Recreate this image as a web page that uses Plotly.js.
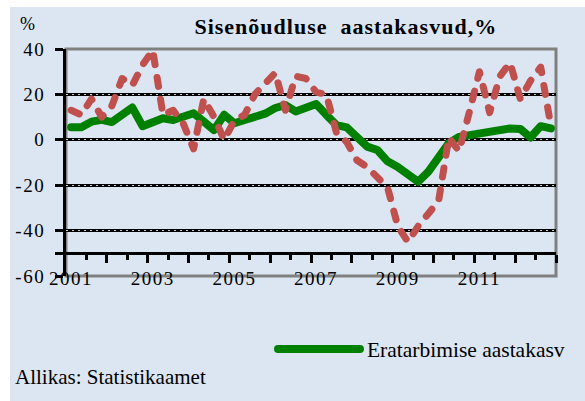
<!DOCTYPE html>
<html><head><meta charset="utf-8">
<script src="https://cdn.plot.ly/plotly-3.0.1.min.js"></script>
<style>
html,body{margin:0;padding:0;background:#ffffff;}
#chart{position:absolute;left:10px;top:7px;width:575px;height:394px;}
.js-line{stroke-linecap:round;stroke-linejoin:round;}
.xtick text,.ytick text{letter-spacing:1.5px;}
.gtitle{letter-spacing:1px;}
</style></head>
<body><div id="chart"></div>
<script>
const categories = [
 '2001 Q1','2001 Q2','2001 Q3','2001 Q4','2002 Q1','2002 Q2','2002 Q3','2002 Q4',
 '2003 Q1','2003 Q2','2003 Q3','2003 Q4','2004 Q1','2004 Q2','2004 Q3','2004 Q4',
 '2005 Q1','2005 Q2','2005 Q3','2005 Q4','2006 Q1','2006 Q2','2006 Q3','2006 Q4',
 '2007 Q1','2007 Q2','2007 Q3','2007 Q4','2008 Q1','2008 Q2','2008 Q3','2008 Q4',
 '2009 Q1','2009 Q2','2009 Q3','2009 Q4','2010 Q1','2010 Q2','2010 Q3','2010 Q4',
 '2011 Q1','2011 Q2','2011 Q3','2011 Q4','2012 Q1','2012 Q2','2012 Q3','2012 Q4'
];
const privateConsumption = [5.5,5.5,8,8.8,7.8,11,14.2,6,7.3,9.5,8.7,10,11.7,8,4.3,11,
 7.3,8.7,10,11.5,14,15.3,12.5,14.5,15.8,11,6.5,5.5,1.3,-3,-4.5,-9.5,
 -12,-15,-18.5,-14,-7,-1.5,1.3,2.2,3,4,4.5,5,4.8,1,6,5];
const investment = [13,11,18,10,15,27,24,33,39.5,11,13,7,-4,18,10,0,
 8.5,11,20,25,29.5,13,28,27,21,20,3,-1,-9,-12,-16,-21,
 -38,-45,-38,-33,-27,1,-5,12,30,12,28,34,18,26,32,6];
const tickYears = ['2001','2003','2005','2007','2009','2011'];
const yTicks = [-60,-50,-40,-20,0,20,40];
const yTickText = ['-60','','-40','-20','0','20','40'];
const gridVals = [-40,-20,0,20];
const seriesName = 'Eratarbimise aastakasv';
const seriesName2 = 'Investeeringute aastakasv';

const xIdx = categories.map((c,i)=>i);
const labelVals = tickYears.map(y=>categories.indexOf(y+' Q1'));
const yearBounds = [], halfBounds = [];
for(let k=1;k*4<=categories.length;k++){ yearBounds.push(4*k-0.5); halfBounds.push(4*k-2.5); }
const xr = [-0.5, categories.length-0.5];
const FONT = 'Liberation Serif';

const traces = [
 {x:xIdx, y:privateConsumption, text:categories, name:seriesName, type:'scatter', mode:'lines',
  line:{color:'#008000', width:8}, xaxis:'x', yaxis:'y', hovertemplate:'%{text}: %{y}<extra></extra>'},
 {x:xIdx, y:investment, text:categories, name:seriesName2, type:'scatter', mode:'lines', showlegend:false,
  line:{color:'#c0504d', width:7, dash:'9px,13px'}, xaxis:'x2', yaxis:'y2', hovertemplate:'%{text}: %{y}<extra></extra>'}
];

const layout = {
 width:575, height:394,
 paper_bgcolor:'#dce6f2', plot_bgcolor:'#dce6f2',
 margin:{l:56, r:29, t:42, b:125},
 font:{family:FONT, color:'#000'},
 title:{text:'<b>Sisenõudluse&nbsp; aastakasvud,%</b>', font:{family:FONT, size:22, color:'#000'},
   xref:'paper', x:0.571, xanchor:'center', yref:'container', y:1-19/394, yanchor:'middle'},
 showlegend:true,
 legend:{x:0.4224, y:-0.3216, xanchor:'left', yanchor:'middle', bgcolor:'rgba(0,0,0,0)',
   font:{family:FONT, size:21.5, color:'#000'}, itemwidth:84},
 xaxis:{range:xr, anchor:'free', position:0.1, showline:false, zeroline:false, showgrid:false,
   tickmode:'array', tickvals:labelVals, ticktext:tickYears, ticks:'', ticklabelstandoff:12,
   tickfont:{family:FONT, size:19, color:'#000'}},
 xaxis2:{range:xr, overlaying:'x', anchor:'free', position:0.1, showline:true, linecolor:'#000', linewidth:3,
   zeroline:false, showgrid:false, showticklabels:false, tickmode:'array', tickvals:yearBounds,
   ticks:'outside', ticklen:8, tickwidth:3, tickcolor:'#000',
   minor:{tickmode:'array', tickvals:halfBounds, ticks:'outside', ticklen:5, tickwidth:3, tickcolor:'#000', showgrid:false}},
 yaxis:{range:[-60,40], tickmode:'array', tickvals:yTicks, ticktext:yTickText, showline:true, linecolor:'#000', linewidth:3,
   ticks:'outside', ticklen:8, tickwidth:3, tickcolor:'#000', showgrid:true, gridcolor:'#000', gridwidth:3,
   zeroline:false, tickfont:{family:FONT, size:19, color:'#000'}, ticklabelstandoff:6},
 yaxis2:{range:[-60,40], overlaying:'y', tickmode:'array', tickvals:gridVals, showticklabels:false, ticks:'',
   showgrid:true, gridcolor:'#cfcfcf', gridwidth:1, griddash:'2px,4px', zeroline:false, showline:false},
 shapes:[{type:'rect', xref:'paper', yref:'paper', x0:0, x1:1, y0:0, y1:1, line:{color:'#808080', width:3}, layer:'between'}],
 annotations:[
  {text:'%', xref:'paper', yref:'paper', x:-0.0786, y:1.11, xanchor:'center', yanchor:'middle', showarrow:false,
   font:{family:FONT, size:18, color:'#000'}},
  {text:'Allikas: Statistikaamet', xref:'paper', yref:'paper', x:-0.108, y:-0.445, xanchor:'left', yanchor:'middle', showarrow:false,
   font:{family:FONT, size:21, color:'#000'}}
 ]
};

Plotly.newPlot('chart', traces, layout, {displayModeBar:false, staticPlot:true}).then(function(){
  document.querySelectorAll('.legend .legendlines path').forEach(function(p){ p.setAttribute('d','M5,0h82'); p.style.strokeLinecap='round'; });
});
</script>
</body></html>
